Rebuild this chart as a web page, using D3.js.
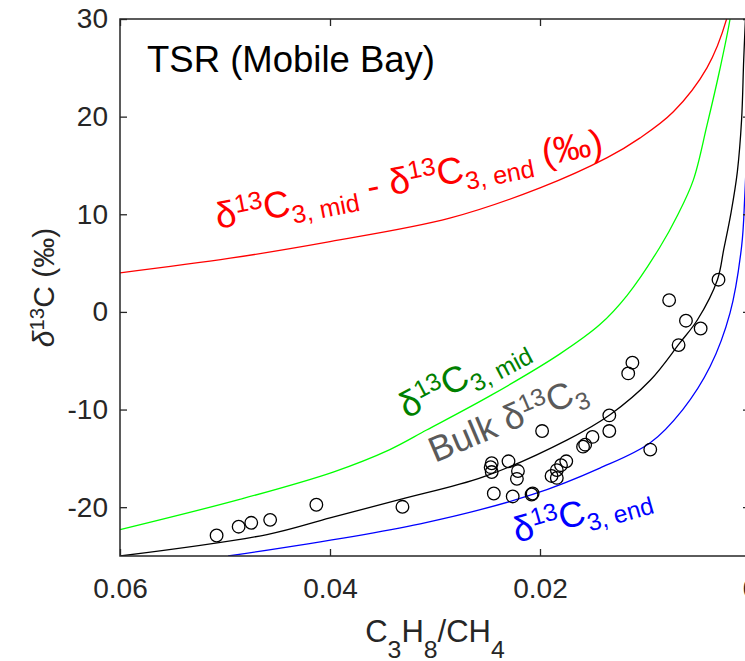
<!DOCTYPE html>
<html>
<head>
<meta charset="utf-8">
<script src="https://cdn.jsdelivr.net/npm/d3@7"></script>
<style>
  html, body { margin: 0; padding: 0; background: #fff; }
  svg { display: block; font-family: "Liberation Sans", Arial, sans-serif; }
  text { white-space: pre; }
</style>
</head>
<body>
<div id="chart"></div>
<script>
// model curves: [C3H8/CH4, d13C]
const diffCurve = [[0.06,4.0],[0.0495,5.5],[0.04,7.2],[0.0286,9.6],[0.02,12.7],[0.0136,15.8],[0.0105,17.8],[0.0073,20.5],[0.0041,25.0],[0.0022,30.1],[0.0017,33]];
const midCurve = [[0.06,-22.3],[0.0486,-19.2],[0.0397,-16.4],[0.0343,-14.1],[0.0308,-12.1],[0.0246,-8.5],[0.0181,-4.3],[0.0143,-1.3],[0.0117,1.7],[0.0086,6.6],[0.0069,9.9],[0.0054,13.5],[0.0041,19.1],[0.0029,24.7],[0.0019,30.0],[0.0014,34]];
const bulkCurve = [[0.06,-25],[0.046,-22.8],[0.04,-21.1],[0.0333,-19.2],[0.0254,-16.9],[0.0174,-13.1],[0.0133,-10.5],[0.0095,-7.0],[0.0067,-3.2],[0.0050,-0.8],[0.0031,3.3],[0.0025,6.4],[0.0018,10.2],[0.0012,14.4],[0.0008,19.7],[0.0006,25.8],[0.0004,30.9]];
const endCurve = [[0.0497,-25],[0.0314,-21.7],[0.0207,-18.7],[0.0143,-16.0],[0.0095,-13.4],[0.0064,-10.0],[0.0038,-5.6],[0.0019,-0.1],[0.0008,6.7],[0.0005,11.8],[0.0002,20]];

// measured bulk samples
const sampleX = [0.0508,0.0487,0.0475,0.0457,0.0413,0.0331,0.0246,0.0247,0.0246,0.0244,0.0230,0.0221,0.0222,0.0226,0.0208,0.0207,0.0189,0.0184,0.0180,0.0175,0.0184,0.0159,0.0157,0.0150,0.0134,0.0134,0.0095,0.0198,0.0112,0.0116,0.0068,0.0047,0.0061,0.0077,0.0030];
const sampleY = [-22.9,-22.0,-21.6,-21.3,-19.75,-19.96,-15.5,-15.9,-16.4,-18.6,-15.3,-16.3,-17.1,-18.9,-18.7,-18.6,-16.8,-16.2,-15.7,-15.3,-17.0,-13.8,-13.6,-12.8,-12.2,-10.6,-14.1,-12.2,-5.2,-6.3,-3.4,-1.7,-0.9,1.2,3.3];

const xTicks = [0.06, 0.04, 0.02, 0];
const yTicks = [-20, -10, 0, 10, 20, 30];
const xTickLabels = ['0.06', '0.04', '0.02', '0'];

const W = 745, H = 661;
const m = { left: 120, right: 750, top: 19, bottom: 556 };
const axisColor = '#262626';

const svg = d3.select('#chart').append('svg').attr('width', W).attr('height', H);
svg.append('rect').attr('width', W).attr('height', H).attr('fill', '#fff');

const x = d3.scaleLinear().domain([0.06, 0]).range([m.left, m.right]);
const y = d3.scaleLinear().domain([-25, 30]).range([m.bottom, m.top]);

svg.append('clipPath').attr('id', 'plot').append('rect')
  .attr('x', m.left).attr('y', m.top).attr('width', m.right - m.left).attr('height', m.bottom - m.top);

const plot = svg.append('g').attr('clip-path', 'url(#plot)');
const line = d3.line().x(d => x(d[0])).y(d => y(d[1])).curve(d3.curveCatmullRom.alpha(0.5));

[[diffCurve, '#ff0000'], [midCurve, '#00ff00'], [bulkCurve, '#000000'], [endCurve, '#0000ff']].forEach(([c, col]) => {
  plot.append('path').datum(c).attr('fill', 'none').attr('stroke', col).attr('stroke-width', 1.3).attr('d', line);
});

plot.selectAll('circle').data(sampleX.map((v, i) => [v, sampleY[i]])).join('circle')
  .attr('cx', d => x(d[0])).attr('cy', d => y(d[1])).attr('r', 6.3)
  .attr('fill', 'none').attr('stroke', '#000').attr('stroke-width', 1.3);

// axes (ticks point inward, box on all sides)
function styleAxis(g) {
  g.select('.domain').remove();
  g.selectAll('line').attr('stroke', axisColor).attr('stroke-width', 1.3);
  g.selectAll('text').attr('fill', axisColor).attr('font-size', 28)
    .attr('font-family', '"Liberation Sans", Arial, sans-serif');
}
svg.append('g').attr('transform', `translate(${m.left},0)`)
  .call(d3.axisLeft(y).tickValues(yTicks).tickSize(-7).tickPadding(12).tickFormat(d => String(d)))
  .call(styleAxis);
svg.append('g').attr('transform', `translate(${m.right},0)`)
  .call(d3.axisRight(y).tickValues(yTicks).tickSize(-7).tickFormat(''))
  .call(styleAxis);
svg.append('g').attr('transform', `translate(0,${m.bottom})`)
  .call(d3.axisBottom(x).tickValues(xTicks).tickSize(-7).tickPadding(22).tickFormat((d, i) => xTickLabels[i]))
  .call(styleAxis);
svg.append('g').attr('transform', `translate(0,${m.top})`)
  .call(d3.axisTop(x).tickValues(xTicks).tickSize(-7).tickFormat(''))
  .call(styleAxis);

svg.append('rect').attr('x', m.left).attr('y', m.top).attr('width', m.right - m.left).attr('height', m.bottom - m.top)
  .attr('fill', 'none').attr('stroke', axisColor).attr('stroke-width', 1.5);

// rich text helper: parts with sup / sub
function rich(sel, parts, size, subShift, subScale) {
  let shift = 0;
  parts.forEach(p => {
    const target = p.sup ? -0.33 * size : p.sub ? subShift * size : 0;
    const ts = sel.append('tspan').attr('dy', target - shift)
      .attr('font-size', p.sub ? size * subScale : p.sup ? size * 0.68 : size).text(p.t);
    if (p.it) ts.attr('font-style', 'italic');
    shift = target;
  });
}

function label(px, py, angle, color, parts, size) {
  const t = svg.append('text').attr('transform', `translate(${px},${py}) rotate(${angle})`).attr('fill', color);
  rich(t, parts, size, 0.25, 0.68);
}

label(218, 229, -11, '#ff0000', [{t:'δ'},{t:'13',sup:true},{t:'C'},{t:'3, mid',sub:true},{t:' - δ'},{t:'13',sup:true},{t:'C'},{t:'3, end',sub:true},{t:' (‰)'}], 37);
label(407, 419, -28, '#008000', [{t:'δ'},{t:'13',sup:true},{t:'C'},{t:'3, mid',sub:true}], 36);
label(435, 463, -23, '#5a5a5a', [{t:'Bulk δ'},{t:'13',sup:true},{t:'C'},{t:'3',sub:true}], 36);
label(517, 543, -16, '#0000ff', [{t:'δ'},{t:'13',sup:true},{t:'C'},{t:'3, end',sub:true}], 36);

svg.append('text').attr('x', 147).attr('y', 72).attr('font-size', 36.5).attr('fill', '#000').text('TSR (Mobile Bay)');

// axis titles
const xt = svg.append('text').attr('x', (m.left + m.right) / 2).attr('y', 642).attr('text-anchor', 'middle').attr('fill', axisColor);
rich(xt, [{t:'C'},{t:'3',sub:true},{t:'H'},{t:'8',sub:true},{t:'/CH'},{t:'4',sub:true}], 31, 0.5, 0.8);

const yt = svg.append('text').attr('transform', `translate(54,${(m.top + m.bottom) / 2}) rotate(-90)`)
  .attr('text-anchor', 'middle').attr('fill', axisColor);
rich(yt, [{t:'δ',it:true},{t:'13',sup:true},{t:'C (‰)'}], 30, 0.25, 0.68);
</script>
</body>
</html>
